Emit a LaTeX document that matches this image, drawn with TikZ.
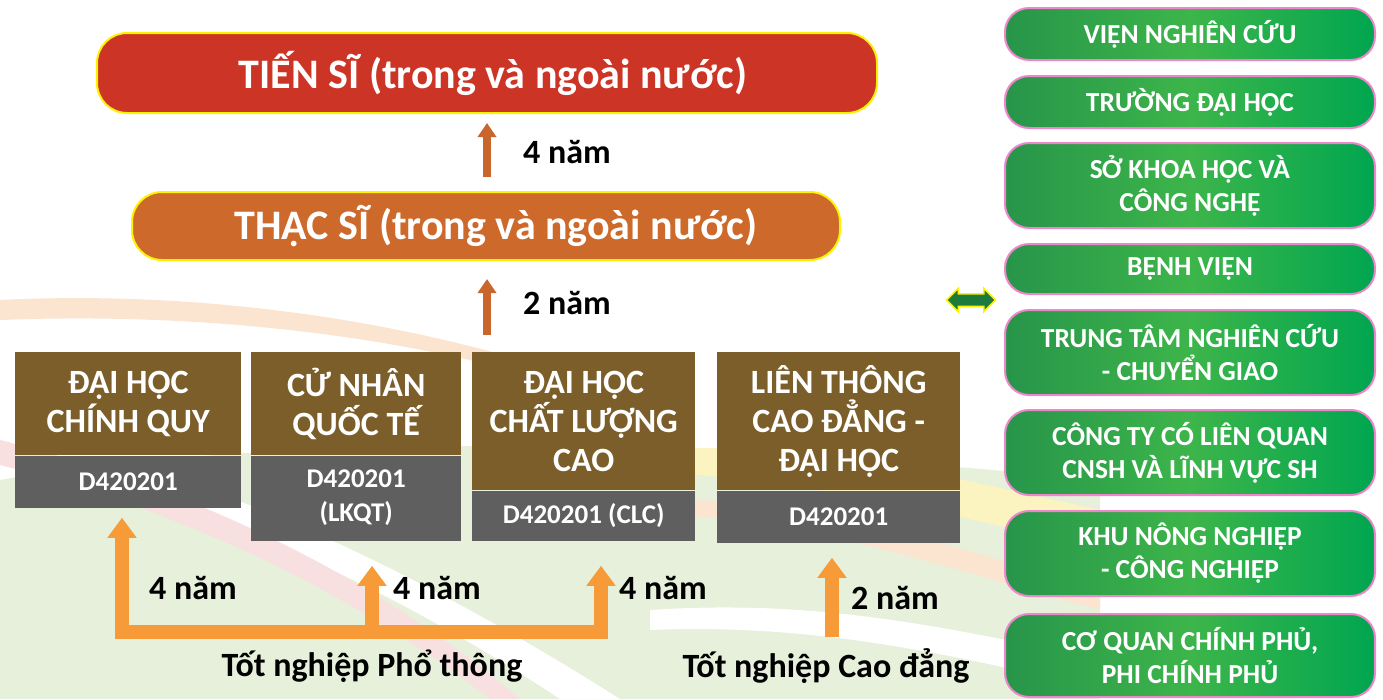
\documentclass[tikz,border=0pt]{standalone}
\usepackage{fontspec}
\setmainfont{Carlito}
\usetikzlibrary{positioning,arrows.meta,shapes.arrows}

\definecolor{phdred}{HTML}{CC3526}
\definecolor{msorange}{HTML}{CD6A2B}
\definecolor{progbrown}{HTML}{7B5E29}
\definecolor{codegray}{HTML}{5F5F5F}
\definecolor{yearorange}{HTML}{F79A38}
\definecolor{steporange}{HTML}{C9662E}
\definecolor{jobdark}{HTML}{27954A}
\definecolor{jobmid}{HTML}{3DB54A}
\definecolor{jobright}{HTML}{00A650}
\definecolor{jobpink}{HTML}{EE86CC}
\definecolor{linkgreen}{HTML}{1B7A3C}
\definecolor{swgreen}{HTML}{E6F0DA}
\definecolor{swyellow}{HTML}{FBF3C0}
\definecolor{sworange}{HTML}{FBE4D0}
\definecolor{swpink}{HTML}{F8E0E0}

\tikzset{
  degbox/.style={draw=yellow, line width=2pt, rounded corners=30pt, text=white,
    font=\fontsize{42}{46}\selectfont\bfseries, inner sep=0pt},
  progtop/.style={fill=progbrown, text=white, align=center, inner sep=0pt,
    font=\fontsize{34}{39}\selectfont\bfseries},
  progcode/.style={fill=codegray, text=white, align=center, inner sep=0pt,
    font=\fontsize{27}{34}\selectfont\bfseries},
  steparrow/.style={draw=steporange, line width=8pt, -{Triangle[length=14pt,width=18pt]}},
  yeararrow/.style={draw=yearorange, line width=14pt, -{Triangle[length=20pt,width=28pt]}},
  yearlbl/.style={font=\fontsize{34}{38}\selectfont\bfseries, text=black},
  jobbox/.style={draw=jobpink, line width=2pt, rounded corners=24pt,
    left color=jobdark, right color=jobright, middle color=jobmid,
    text=white, align=center, inner sep=0pt, minimum width=370pt,
    font=\fontsize{27.5}{33}\selectfont\bfseries}
}

\begin{document}
\begin{tikzpicture}[x=1pt,y=-1pt]
\useasboundingbox (0,0) rectangle (1383,699);

% background swooshes
\fill[swgreen] (0,480) .. controls (300,430) and (700,440) .. (1100,480)
  -- (1100,699) -- (0,699) -- cycle;
\fill[white] (0,430) .. controls (200,470) and (400,560) .. (620,699)
  -- (560,699) .. controls (380,580) and (200,500) .. (0,460) -- cycle;
\fill[swpink] (0,440) .. controls (200,490) and (380,580) .. (520,699)
  -- (490,699) .. controls (350,590) and (180,510) .. (0,465) -- cycle;
\fill[sworange] (0,300) .. controls (200,290) and (400,320) .. (560,372)
  -- (560,384) .. controls (400,335) and (200,312) .. (0,320) -- cycle;
\fill[swyellow] (640,450) .. controls (800,440) and (920,470) .. (1100,510)
  -- (1100,550) .. controls (900,500) and (780,480) .. (640,470) -- cycle;
\fill[sworange] (680,500) .. controls (820,500) and (930,540) .. (1100,590)
  -- (1100,610) .. controls (920,560) and (820,525) .. (680,515) -- cycle;
\fill[white] (650,610) .. controls (800,600) and (920,620) .. (1100,660)
  -- (1100,690) .. controls (900,640) and (780,625) .. (650,630) -- cycle;

% degrees
\node[degbox, fill=phdred, minimum width=780pt, minimum height=80pt] (ts) at (487,73)
  {\hspace*{12pt}TIẾN SĨ (trong và ngoài nước)};
\node[degbox, fill=msorange, minimum width=708pt, minimum height=68pt] (ms) at (486,226)
  {\hspace*{20pt}THẠC SĨ (trong và ngoài nước)};

% programmes
\node[progtop, anchor=north west, minimum width=226pt, minimum height=103pt] (dh) at (15,352)
  {ĐẠI HỌC\\CHÍNH QUY};
\node[progcode, below=0pt of dh, minimum width=226pt, minimum height=52pt] (dhcode)
  {D420201};
\node[progtop, anchor=north west, minimum width=210pt, minimum height=103pt] (cn) at (251,352)
  {CỬ NHÂN\\QUỐC TẾ};
\node[progcode, below=0pt of cn, minimum width=210pt, minimum height=85pt] (cncode)
  {D420201\\(LKQT)};
\node[progtop, anchor=north west, minimum width=223pt, minimum height=138pt] (clc) at (472,352)
  {ĐẠI HỌC\\CHẤT LƯỢNG\\CAO};
\node[progcode, below=0pt of clc, minimum width=223pt, minimum height=50pt] (clccode)
  {D420201 (CLC)};
\node[progtop, anchor=north west, minimum width=243pt, minimum height=138pt] (lt) at (717,352)
  {LIÊN THÔNG\\CAO ĐẲNG -\\ĐẠI HỌC};
\node[progcode, below=0pt of lt, minimum width=243pt, minimum height=52pt] (ltcode)
  {D420201};

% steps up
\coordinate (rowtop) at (487,352);
\draw[steparrow, shorten <=14pt, shorten >=9pt] (ms.north -| 487,0) -- (ts.south -| 487,0);
\draw[steparrow, shorten <=17pt, shorten >=18pt] (rowtop) -- (ms.south -| 487,0);
\node[yearlbl] (y4) at (567,152) {4 năm};
\node[yearlbl] (y2) at (567,303) {2 năm};

% entry paths
\coordinate (ptL) at (122,632);
\coordinate (ptM) at (372,632);
\coordinate (ptR) at (601,632);
\coordinate (cdR) at (832,637);
\draw[yeararrow, line cap=rect, shorten >=10pt] (ptR) -- (ptL) -- (ptL |- dhcode.south);
\draw[yeararrow, shorten >=25pt] (ptM) -- (ptM |- cncode.south);
\draw[yeararrow, shorten >=25pt] (ptR) -- (ptR |- clccode.south);
\draw[yeararrow, shorten >=15pt] (cdR) -- (cdR |- ltcode.south);
\node[yearlbl] (l1) at (193,588) {4 năm};
\node[yearlbl] (l2) at (437,588) {4 năm};
\node[yearlbl] (l3) at (663,588) {4 năm};
\node[yearlbl] (l4) at (895,598) {2 năm};
\node[yearlbl] (ptgrad) at (372,666) {Tốt nghiệp Phổ thông};
\node[yearlbl] (cdgrad) at (826,666) {Tốt nghiệp Cao đẳng};

% link to employers
\node[double arrow, fill=linkgreen, draw=yellow, line width=1.5pt, inner xsep=0pt,
  inner ysep=5.5pt, minimum width=22pt, minimum height=49pt,
  double arrow head extend=5.5pt] (link) at (971,300) {};

% employers
\node[jobbox, minimum height=52pt] (j1) at (1190,34) {VIỆN NGHIÊN CỨU};
\node[jobbox, minimum height=52pt] (j2) at (1190,102) {TRƯỜNG ĐẠI HỌC};
\node[jobbox, minimum height=85pt] (j3) at (1190,185.5) {SỞ KHOA HỌC VÀ\\CÔNG NGHỆ};
\node[jobbox, minimum height=50pt] (j4) at (1190,269) {BỆNH VIỆN};
\node[jobbox, minimum height=85pt] (j5) at (1190,352.5) {TRUNG TÂM NGHIÊN CỨU\\- CHUYỂN GIAO};
\node[jobbox, minimum height=85pt] (j6) at (1190,452.5) {CÔNG TY CÓ LIÊN QUAN\\CNSH VÀ LĨNH VỰC SH};
\node[jobbox, minimum height=85pt] (j7) at (1190,553.5) {KHU NÔNG NGHIỆP\\- CÔNG NGHIỆP};
\node[jobbox, minimum height=83pt] (j8) at (1190,655.5) {CƠ QUAN CHÍNH PHỦ,\\PHI CHÍNH PHỦ};
\end{tikzpicture}
\end{document}
